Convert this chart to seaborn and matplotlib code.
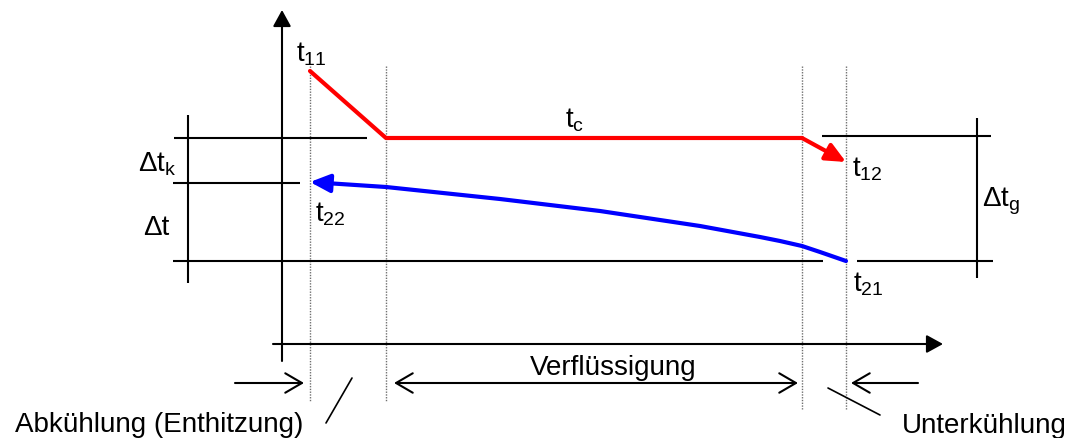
import matplotlib.pyplot as plt
import seaborn as sns

# Temperaturverlauf im Verflüssiger (Koordinaten in Bildpunkten, y nach unten)
rot_x = [310, 386, 802, 846]          # Kältemittel: t11 -> tc -> t12
rot_y = [72, 139, 139, 163]
blau_x = [846, 820, 802, 780, 760, 700, 600, 500, 386, 310]   # Kühlmittel: t21 -> t22
blau_y = [262, 253, 247, 242, 238, 227, 212, 200, 188, 183]

zonen_x = [310, 386, 802, 846]        # Grenzen Abkühlung / Verflüssigung / Unterkühlung
niveau_tc = 139
niveau_t22 = 184
niveau_t21 = 262

sns.set_style('white')
plt.rcParams['font.family'] = ['Liberation Sans', 'DejaVu Sans']
plt.rcParams['mathtext.fontset'] = 'custom'
plt.rcParams['mathtext.rm'] = 'Liberation Sans'
plt.rcParams['mathtext.it'] = 'Liberation Sans'
plt.rcParams['text.color'] = 'black'

fig = plt.figure(figsize=(10.76, 4.39), dpi=100)
ax = fig.add_axes([0, 0, 1, 1])
ax.set_xlim(0, 1076)
ax.set_ylim(439, 0)
ax.axis('off')

schwarz = dict(color='black', lw=1.5, solid_capstyle='butt')

# Achsen mit Pfeilspitzen
voll = '-|>,head_length=10,head_width=5.5'
ax.annotate('', xy=(282, 11), xytext=(282, 362),
            arrowprops=dict(arrowstyle=voll, color='black', lw=1.5,
                            shrinkA=0, shrinkB=0, mutation_scale=1))
ax.annotate('', xy=(943, 345), xytext=(273, 345),
            arrowprops=dict(arrowstyle=voll, color='black', lw=1.5,
                            shrinkA=0, shrinkB=0, mutation_scale=1))

# gepunktete Zonengrenzen
unten = [402, 403, 410, 410]
for x, yb in zip(zonen_x, unten):
    ax.plot([x, x], [67, yb], color='#707070', lw=1.0, ls=(0, (1, 1)))

# Hilfslinien links (Delta t_k, Delta t)
ax.plot([174, 367], [niveau_tc, niveau_tc], **schwarz)
ax.plot([173, 300], [niveau_t22, niveau_t22], **schwarz)
ax.plot([173, 823], [niveau_t21, niveau_t21], **schwarz)
ax.plot([188, 188], [116, 284], **schwarz)

# Hilfslinien rechts (Delta t_g)
ax.plot([822, 991], [137, 137], **schwarz)
ax.plot([857, 993], [niveau_t21, niveau_t21], **schwarz)
ax.plot([977, 977], [119, 279], **schwarz)

# Kältemittel (rot)
sns.lineplot(x=rot_x[:-1], y=rot_y[:-1], sort=False, estimator=None,
             color='red', lw=3, ax=ax)
ax.annotate('', xy=(rot_x[-1], rot_y[-1]), xytext=(rot_x[-2], rot_y[-2]),
            arrowprops=dict(arrowstyle='-|>,head_length=12,head_width=5.5',
                            color='red', lw=3, shrinkA=0, shrinkB=0,
                            mutation_scale=1))

# Kühlmittel (blau)
sns.lineplot(x=blau_x[:-1], y=blau_y[:-1], sort=False, estimator=None,
             color='blue', lw=3, ax=ax, solid_joinstyle='round')
ax.annotate('', xy=(blau_x[-1], blau_y[-1]), xytext=(blau_x[-2], blau_y[-2]),
            arrowprops=dict(arrowstyle='-|>,head_length=12,head_width=5.5',
                            color='blue', lw=3, shrinkA=0, shrinkB=0,
                            mutation_scale=1))

# Beschriftungen der Temperaturen
fs = 20
txt = dict(fontsize=fs, ha='left', va='baseline', color='black')
ax.text(296, 62, r'$\mathregular{t_{11}}$', **txt)
ax.text(565, 128, r'$\mathregular{t_c}$', **txt)
ax.text(852, 177, r'$\mathregular{t_{12}}$', **txt)
ax.text(315, 222, r'$\mathregular{t_{22}}$', **txt)
ax.text(853, 292, r'$\mathregular{t_{21}}$', **txt)
ax.text(138, 172, r'$\mathregular{Δt_k}$', **txt)
ax.text(143, 235, 'Δt', **txt)
ax.text(982, 207, r'$\mathregular{Δt_g}$', **txt)

# Bereichspfeile unten
offen = dict(color='black', lw=1.5, shrinkA=0, shrinkB=0, mutation_scale=1)
ax.annotate('', xy=(304, 384), xytext=(235, 384),
            arrowprops=dict(arrowstyle='->,head_length=12,head_width=7', **offen))
ax.annotate('', xy=(394, 384), xytext=(798, 384),
            arrowprops=dict(arrowstyle='<->,head_length=12,head_width=7', **offen))
ax.annotate('', xy=(851, 384), xytext=(918, 384),
            arrowprops=dict(arrowstyle='->,head_length=12,head_width=7', **offen))

ax.text(613, 375, 'Verflüssigung', fontsize=fs, ha='center', va='baseline',
        color='black')
ax.text(15, 432, 'Abkühlung (Enthitzung)', **txt)
ax.text(902, 433, 'Unterkühlung', **txt)
ax.plot([352, 326], [379, 424], color='black', lw=1.2)
ax.plot([828, 880], [389, 416], color='black', lw=1.2)

fig.savefig('out.png', dpi=100)
